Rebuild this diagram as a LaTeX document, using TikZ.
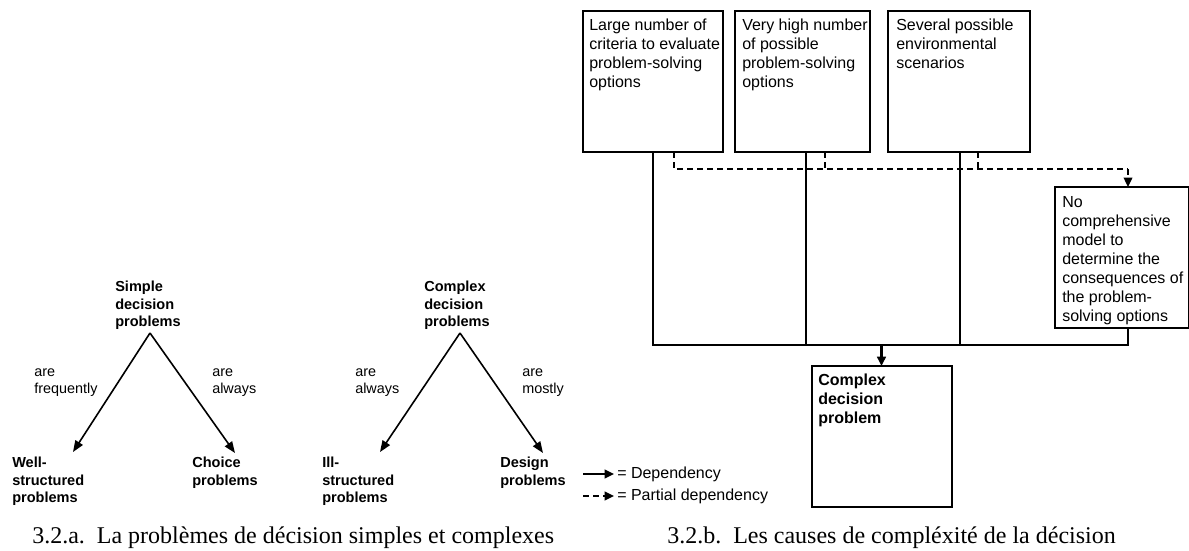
\documentclass[tikz,border=0pt]{standalone}
\usepackage{fontspec}
\setmainfont{Liberation Serif}
\setsansfont{Liberation Sans}
\usetikzlibrary{arrows.meta}
\begin{document}
\begin{tikzpicture}[x=0.75pt,y=-0.75pt,
  box/.style={draw,line width=1pt,outer sep=0pt,inner sep=0pt,anchor=north west},
  boxtxt/.style={anchor=north west,inner sep=0pt,align=left,font=\sffamily\fontsize{12}{14.25}\selectfont},
  boldtxt/.style={anchor=north west,inner sep=0pt,align=left,font=\sffamily\bfseries\fontsize{10.9}{13.1}\selectfont},
  lbl/.style={anchor=north west,inner sep=0pt,align=left,font=\sffamily\fontsize{10.8}{12.8}\selectfont},
  link/.style={line width=2.2pt},
  thinlink/.style={line width=1pt},
  dashlink/.style={line width=1pt,dash pattern=on 4.5pt off 3pt},
  tip/.style={-{Triangle[length=7pt,width=6.5pt]}},
  treearrow/.style={line width=1.2pt,-{Triangle[length=8.5pt,width=6.5pt]}},
  legtxt/.style={anchor=west,inner sep=0pt,font=\sffamily\fontsize{12}{14}\selectfont},
  caption/.style={anchor=base west,font=\rmfamily\fontsize{18}{20}\selectfont,inner sep=0pt}
]
\useasboundingbox (0,0) rectangle (1189,550);

% ---------- right diagram: boxes ----------
\node[box,minimum width=105pt,minimum height=105.75pt] (b1) at (583,11) {};
\node[box,minimum width=101.25pt,minimum height=105.75pt] (b2) at (735,11) {};
\node[box,minimum width=106.5pt,minimum height=105.75pt] (b3) at (888,11) {};
\node[box,minimum width=100.5pt,minimum height=105.75pt] (b4) at (1055,187) {};
\node[box,minimum width=105pt,minimum height=105.75pt] (cx) at (812,366) {};

\node[boxtxt] (t1) at (589,19) {Large number of\\criteria to evaluate\\problem-solving\\options};
\node[boxtxt] (t2) at (742,19) {Very high number\\of possible\\problem-solving\\options};
\node[boxtxt] (t3) at (896,19) {Several possible\\environmental\\scenarios};
\node[boxtxt] (t4) at (1062,196) {No\\comprehensive\\model to\\determine the\\consequences of\\the problem-\\solving options};
\node[boxtxt,font=\sffamily\bfseries\fontsize{12}{14.25}\selectfont] (t5) at (818,374) {Complex\\decision\\problem};

% junction coordinates
\coordinate (j1) at (653,345);
\coordinate (j2) at (806,345);
\coordinate (j3) at (960,345);
\coordinate (j4) at (1128,345);
\coordinate (jc) at (881.5,345);
\coordinate (d1) at (674,169);
\coordinate (d2) at (825,169);
\coordinate (d3) at (978,169);
\coordinate (d4) at (1128,169);

% solid dependencies
\draw[link] (b1.south -| j1) -- (j1) -- (j3) -- (b3.south -| j3);
\draw[link] (b2.south -| j2) -- (j2);
\draw[thinlink] (j3) -- (j4) -- (b4.south -| j4);
\draw[link,tip] (jc) -- (cx.north -| jc);

% partial dependencies
\draw[dashlink] (b1.south -| d1) -- (d1) -- (d4);
\draw[dashlink] (b2.south -| d2) -- (d2);
\draw[dashlink] (b3.south -| d3) -- (d3);
\draw[dashlink,tip] (d4) -- (b4.north -| d4);

% legend
\coordinate (la) at (583,474);
\coordinate (lb) at (614,474);
\coordinate (lc) at (583,496);
\coordinate (ld) at (614,496);
\draw[thinlink,line width=1.2pt,tip] (la) -- (lb);
\draw[dashlink,line width=1.2pt,tip] (lc) -- (ld);
\node[legtxt] (lg1) at (617,474) {= Dependency};
\node[legtxt] (lg2) at (617,496) {= Partial dependency};

% ---------- left diagram 1 ----------
\node[boldtxt] (s) at (115,281) {Simple\\decision\\problems};
\coordinate (sa) at (150,333);
\coordinate (sl) at (73,452);
\coordinate (sr) at (235,453);
\draw[treearrow] (sa) -- (sl);
\draw[treearrow] (sa) -- (sr);
\node[lbl] (sf) at (34,368) {are\\frequently};
\node[lbl] (sal) at (212,368) {are\\always};
\node[boldtxt] (ws) at (12,457) {Well-\\structured\\problems};
\node[boldtxt] (cp) at (192,457) {Choice\\problems};

% ---------- left diagram 2 ----------
\node[boldtxt] (c) at (424,281) {Complex\\decision\\problems};
\coordinate (ca) at (460,333);
\coordinate (cl) at (380,452);
\coordinate (cr) at (543,453);
\draw[treearrow] (ca) -- (cl);
\draw[treearrow] (ca) -- (cr);
\node[lbl] (ca1) at (355,368) {are\\always};
\node[lbl] (cm) at (522,368) {are\\mostly};
\node[boldtxt] (is) at (322,457) {Ill-\\structured\\problems};
\node[boldtxt] (dp) at (500,457) {Design\\problems};

% ---------- captions ----------
\node[caption] (capa) at (32,543) {3.2.a.\ \ La problèmes de décision simples et complexes};
\node[caption] (capb) at (667,543) {3.2.b.\ \ Les causes de compléxité de la décision};
\end{tikzpicture}
\end{document}
